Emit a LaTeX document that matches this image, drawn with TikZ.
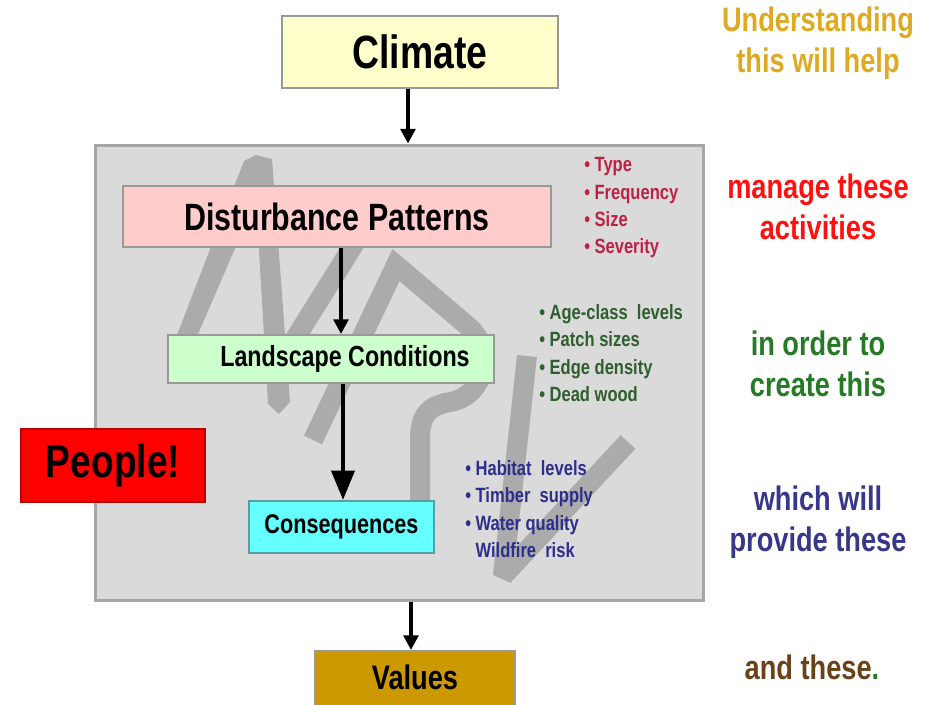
\documentclass[tikz,border=0pt]{standalone}
\usepackage{fontspec}
\setmainfont{Liberation Sans}
\usetikzlibrary{arrows.meta}
\definecolor{boxgray}{HTML}{999999}
\definecolor{maingray}{HTML}{A6A6A6}
\definecolor{mainfill}{HTML}{DADADA}
\definecolor{wmgray}{HTML}{ABABAB}
\definecolor{climfill}{HTML}{FFFFCC}
\definecolor{dpfill}{HTML}{FFCCCC}
\definecolor{lcfill}{HTML}{CCFFCC}
\definecolor{consfill}{HTML}{66FFFF}
\definecolor{consdraw}{HTML}{5A9E9E}
\definecolor{peopledraw}{HTML}{B80000}
\definecolor{valfill}{HTML}{CC9900}
\definecolor{redlist}{HTML}{BB2244}
\definecolor{greenlist}{HTML}{2F5F2F}
\definecolor{bluelist}{HTML}{2E2E8C}
\definecolor{goldtext}{HTML}{DDAA22}
\definecolor{redtext}{HTML}{FF1111}
\definecolor{greentext}{HTML}{267A26}
\definecolor{bluetext}{HTML}{383888}
\definecolor{browntext}{HTML}{6B4218}
\newcommand{\sqz}[1]{\scalebox{0.8}[1]{#1}}
\begin{document}
\begin{tikzpicture}[x=0.75pt,y=-0.75pt,
  box/.style={draw=boxgray, line width=1.5pt, inner sep=0pt, font=\bfseries},
  arr/.style={line width=3pt, -{Triangle[length=11pt,width=11pt]}},
  bigarr/.style={line width=3.5pt, -{Triangle[length=22pt,width=17pt]}},
  wm/.style={draw=wmgray, line width=15pt, line cap=butt, line join=miter},
  wmfill/.style={fill=wmgray, draw=none},
  lst/.style={anchor=west, align=left, inner sep=0pt, font=\bfseries\fontsize{15.5}{20.5}\selectfont},
  col/.style={align=center, inner sep=0pt, font=\bfseries\fontsize{25.5}{30.75}\selectfont}]
\useasboundingbox (0,0) rectangle (929,704);
\fill[white] (0,0) rectangle (929,704);

% main gray panel
\node[draw=maingray, line width=2.25pt, fill=mainfill, inner sep=0pt,
      minimum width=456pt, minimum height=341.25pt] (Main) at (399,372.5) {};

% watermark
\fill[wmfill] (172,348) -- (244,161) -- (256,155) -- (272,159) -- (290,402)
  -- (279,414) -- (268,404) -- (256,200) -- (192,348) -- cycle;
\draw[wm] (283,358) -- (358,238);
\draw[wm] (313,440) -- (396,265) -- (470,328)
  .. controls (492,348) and (488,395) .. (450,402)
  .. controls (428,406) and (420,415) .. (420,440) -- (420,500);
\draw[wm, line join=bevel] (527,356) -- (503,576) -- (628,442);

% boxes
\node[box, fill=climfill, minimum width=207pt, minimum height=54pt,
      font=\bfseries\fontsize{35}{40}\selectfont] (Climate) at (420,51.6) {\sqz{Climate}};
\node[box, fill=dpfill, minimum width=321pt, minimum height=45.75pt,
      font=\bfseries\fontsize{28.5}{32}\selectfont] (DP) at (337,216.5) {\sqz{Disturbance Patterns}};
\node[box, fill=lcfill, minimum width=244.5pt, minimum height=36pt,
      font=\bfseries\fontsize{21.8}{25}\selectfont] (LC) at (331,359) {\hspace*{21pt}\sqz{Landscape Conditions}};
\node[box, draw=consdraw, fill=consfill, minimum width=138.75pt, minimum height=39pt,
      font=\bfseries\fontsize{20.3}{24}\selectfont] (Cons) at (341.5,527) {\sqz{Consequences}};
\node[box, draw=peopledraw, fill=red, minimum width=138pt, minimum height=54.75pt,
      font=\bfseries\fontsize{34.8}{40}\selectfont] (People) at (113,465.5) {\sqz{People!}};
\node[box, fill=valfill, minimum width=150pt, minimum height=42pt,
      font=\bfseries\fontsize{25.5}{30}\selectfont] (Values) at (415,679) {\raisebox{2pt}{\sqz{Values}}};

% connectors
\coordinate (xA) at (408,0);
\coordinate (xB) at (341,0);
\coordinate (xC) at (343,0);
\coordinate (xD) at (411,0);
\draw[arr] (Climate.south -| xA) -- (Main.north -| xA);
\draw[arr] (DP.south -| xB) -- (LC.north -| xB);
\draw[bigarr] (LC.south -| xC) -- (Cons.north -| xC);
\draw[arr] (Main.south -| xD) -- (Values.north -| xD);

% bullet lists
\node[lst, text=redlist] (L1) at (584,208) {\sqz{• Type}\\ \sqz{• Frequency}\\ \sqz{• Size}\\ \sqz{• Severity}};
\node[lst, text=greenlist] (L2) at (539,353) {\sqz{• Age-class\ \ levels}\\ \sqz{• Patch sizes}\\ \sqz{• Edge density}\\ \sqz{• Dead wood}};
\node[lst, text=bluelist] (L3) at (465,509) {\sqz{• Habitat\ \ levels}\\ \sqz{• Timber\ \ supply}\\ \sqz{• Water quality}\\ \sqz{\phantom{•} Wildfire\ \ risk}};

% right column
\node[col, text=goldtext] (C1) at (818,43) {\sqz{Understanding}\\ \sqz{this will help}};
\node[col, text=redtext] (C2) at (818,206.5) {\sqz{manage these}\\ \sqz{activities}};
\node[col, text=greentext] (C3) at (818,364) {\sqz{in order to}\\ \sqz{create this}};
\node[col, text=bluetext] (C4) at (818,522) {\sqz{which will}\\ \sqz{provide these}};
\node[col, text=browntext] (C5) at (812,667) {\sqz{and these\textcolor{greentext}{.}}};
\end{tikzpicture}
\end{document}
